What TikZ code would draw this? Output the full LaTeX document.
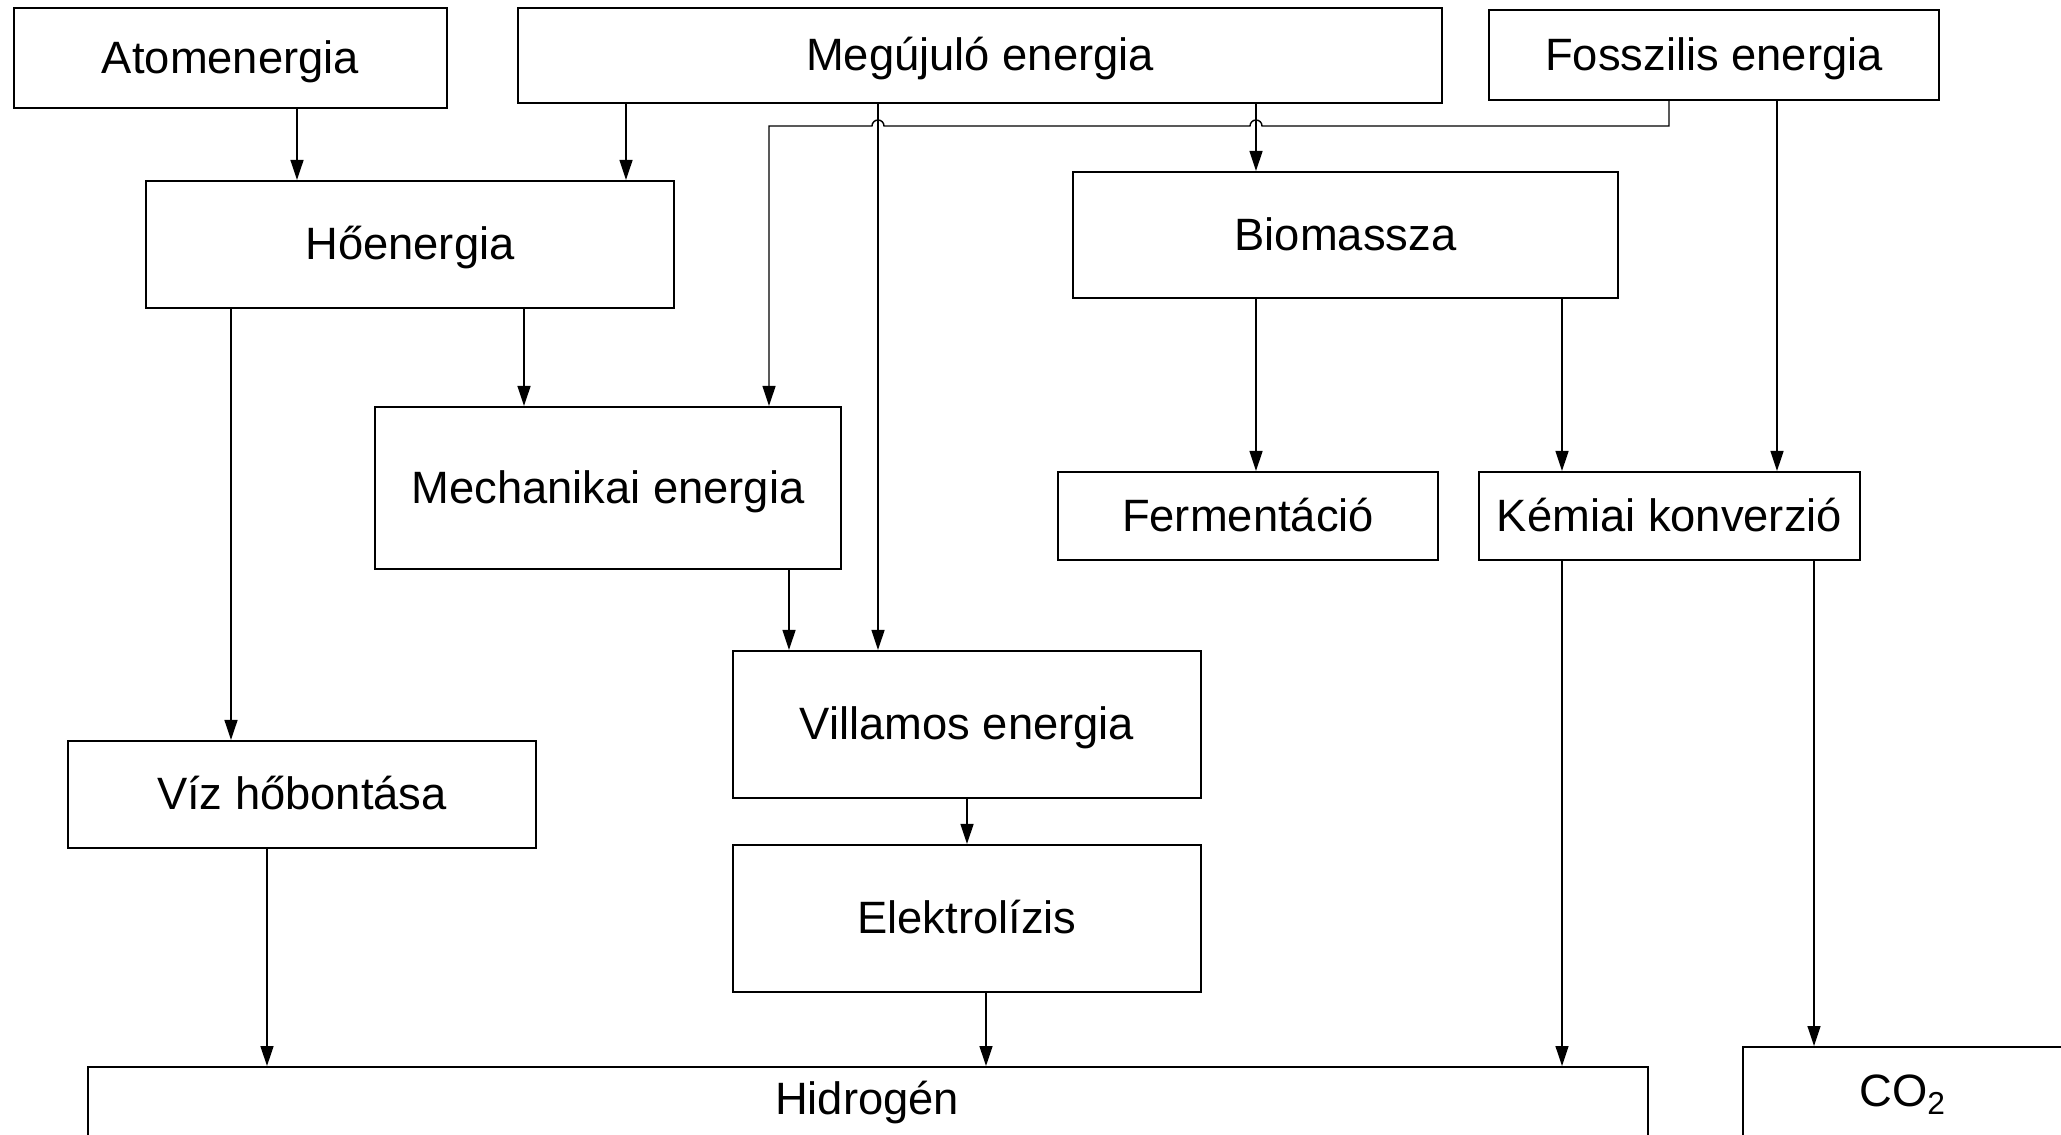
\documentclass[tikz,border=0pt]{standalone}
\usepackage{fontspec}
\setmainfont{Liberation Sans}
\usetikzlibrary{arrows.meta}

\begin{document}
\begin{tikzpicture}[
  font=\fontsize{12.9}{15.5}\selectfont,
  lbl/.style={inner sep=0pt, text height=9.3pt, text depth=0.5pt},
  block/.style={lbl, draw=black, line width=0.6pt},
  flow/.style={-{Triangle[length=2mm, width=1.3mm]}, line width=0.4pt}
]
  \useasboundingbox (0,0) rectangle (20.61,-11.35);
  \clip (0,0) rectangle (20.61,-11.35);

  % sources
  \node[block, minimum width=4.33cm, minimum height=1.00cm] (atom) at (2.305,-0.58) {Atomenergia};
  \node[block, minimum width=9.24cm, minimum height=0.95cm] (megujulo) at (9.80,-0.555) {Megújuló energia};
  \node[block, minimum width=4.50cm, minimum height=0.90cm] (fossz) at (17.14,-0.55) {Fosszilis energia};

  % intermediate forms
  \node[block, minimum width=5.28cm, minimum height=1.27cm] (ho) at (4.10,-2.445) {Hőenergia};
  \node[block, minimum width=5.45cm, minimum height=1.26cm] (bio) at (13.455,-2.35) {Biomassza};
  \node[block, minimum width=4.66cm, minimum height=1.62cm] (mech) at (6.08,-4.88) {Mechanikai energia};
  \node[block, minimum width=3.80cm, minimum height=0.88cm] (ferm) at (12.48,-5.16) {Fermentáció};
  \node[block, minimum width=3.81cm, minimum height=0.88cm] (kem) at (16.695,-5.16) {Kémiai konverzió};
  \node[block, minimum width=4.68cm, minimum height=1.47cm] (vill) at (9.67,-7.245) {Villamos energia};
  \node[block, minimum width=4.68cm, minimum height=1.07cm] (viz) at (3.02,-7.945) {Víz hőbontása};
  \node[block, minimum width=4.68cm, minimum height=1.47cm] (elek) at (9.67,-9.185) {Elektrolízis};

  % products
  \node[block, anchor=north west, minimum width=15.60cm, minimum height=1.2cm] (hidrogen) at (0.87,-10.66) {};
  \node[lbl] (hidrogenlbl) at (8.67,-10.995) {Hidrogén};
  \node[block, anchor=north west, minimum width=4cm, minimum height=1.4cm] (co2) at (17.42,-10.46) {};
  \node[lbl] (co2lbl) at (19.03,-10.91) {CO\textsubscript{2}};

  % arrow columns
  \coordinate (cA) at (2.97,0);
  \coordinate (cB) at (6.26,0);
  \coordinate (cC) at (8.78,0);
  \coordinate (cD) at (12.56,0);
  \coordinate (cE) at (16.69,0);
  \coordinate (cF) at (7.69,0);
  \coordinate (cG) at (17.77,0);
  \coordinate (cH) at (5.24,0);
  \coordinate (cI) at (2.31,0);
  \coordinate (cK) at (15.62,0);
  \coordinate (cL) at (7.89,0);
  \coordinate (cN) at (2.67,0);
  \coordinate (cO) at (9.86,0);
  \coordinate (cP) at (18.14,0);
  \coordinate (bus) at (0,-1.26);

  \draw[flow] (atom.south -| cA) -- (ho.north -| cA);
  \draw[flow] (megujulo.south -| cB) -- (ho.north -| cB);
  \draw[flow] (megujulo.south -| cC) -- (vill.north -| cC);
  \draw[flow] (megujulo.south -| cD) -- (bio.north -| cD);
  % fossil line hops over the two verticals
  \draw[flow] (fossz.south -| cE) -- (bus -| cE)
    -- ([xshift=0.06cm]bus -| cD) arc[start angle=0, end angle=180, radius=0.06cm]
    -- ([xshift=0.06cm]bus -| cC) arc[start angle=0, end angle=180, radius=0.06cm]
    -- (bus -| cF) -- (mech.north -| cF);
  \draw[flow] (fossz.south -| cG) -- (kem.north -| cG);
  \draw[flow] (ho.south -| cH) -- (mech.north -| cH);
  \draw[flow] (ho.south -| cI) -- (viz.north -| cI);
  \draw[flow] (bio.south -| cD) -- (ferm.north -| cD);
  \draw[flow] (bio.south -| cK) -- (kem.north -| cK);
  \draw[flow] (mech.south -| cL) -- (vill.north -| cL);
  \draw[flow] (vill) -- (elek);
  \draw[flow] (viz.south -| cN) -- (hidrogen.north -| cN);
  \draw[flow] (elek.south -| cO) -- (hidrogen.north -| cO);
  \draw[flow] (kem.south -| cK) -- (hidrogen.north -| cK);
  \draw[flow] (kem.south -| cP) -- (co2.north -| cP);
\end{tikzpicture}
\end{document}
